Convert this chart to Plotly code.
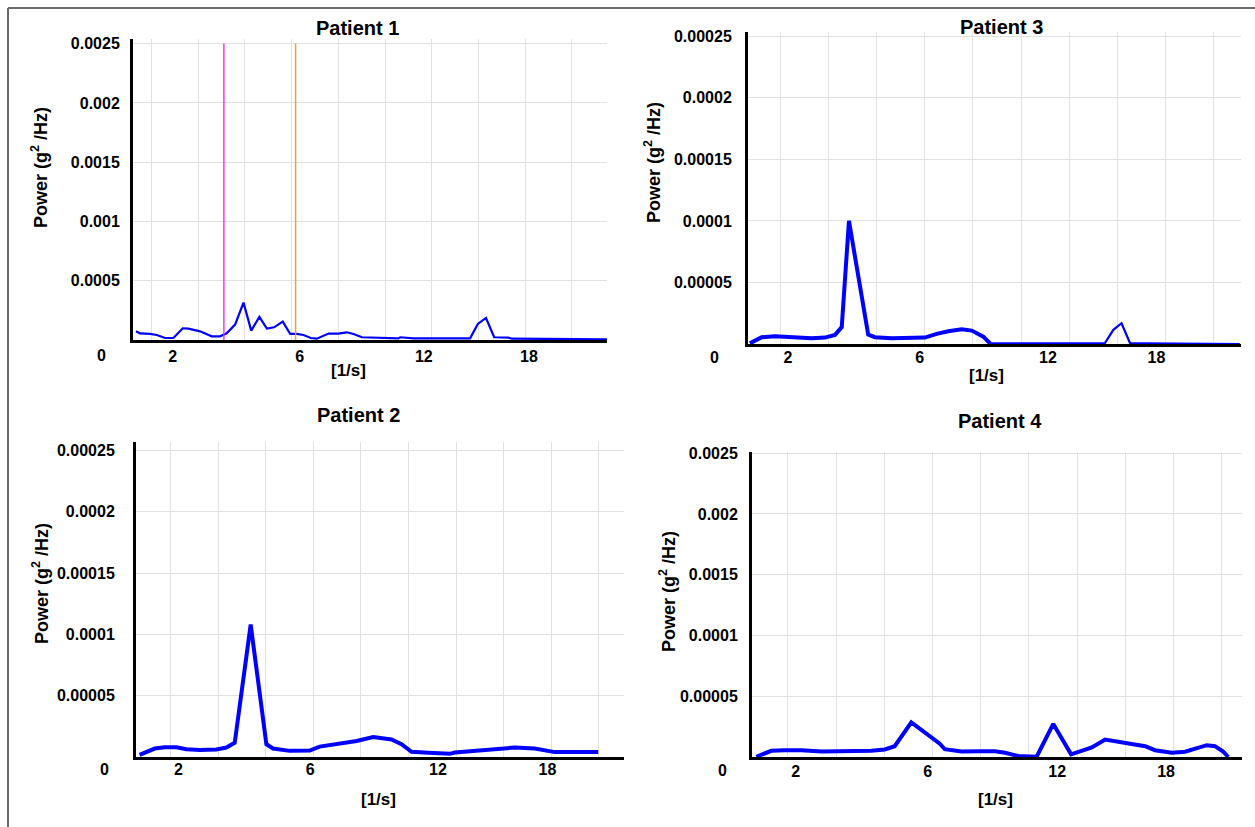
import plotly.graph_objects as go

# ---------------- data ----------------
tick_text = ["2", "6", "12", "18"]

p1_freq = [1.34, 1.51, 1.94, 2.23, 2.58, 2.94, 3.34, 3.58, 4.08, 4.58,
           4.94, 5.22, 5.58, 5.94, 6.27, 6.62, 6.94, 7.25, 7.62, 7.94,
           8.22, 8.51, 8.82, 9.08, 9.58, 10.0, 10.36, 10.65, 11.01, 11.65,
           12.08, 12.57, 12.65, 12.96, 13.22, 15.64, 15.97, 16.32, 16.67, 17.28,
           17.43, 21.5]
p1_power = [7.3e-5, 5.6e-5, 5.1e-5, 4.2e-5, 1.7e-5, 1.7e-5, 9.9e-5, 9.6e-5, 7.3e-5, 3.1e-5,
            3.1e-5, 5.6e-5, 1.3e-4, 3.16e-4, 7.9e-5, 1.95e-4, 9.6e-5, 1.07e-4, 1.55e-4, 5.1e-5,
            5.1e-5, 4.2e-5, 1.7e-5, 1.1e-5, 5.4e-5, 5.4e-5, 6.5e-5, 5.1e-5, 2.3e-5, 2.0e-5,
            1.4e-5, 1.4e-5, 2.3e-5, 2.0e-5, 1.4e-5, 1.4e-5, 1.36e-4, 1.86e-4, 2.3e-5, 2.0e-5,
            1.1e-5, 6e-6]
p1_band_edges = [5.10, 8.17]
p1_ticks = [2.91, 8.35, 13.66, 18.16]

p3_freq = [0.72, 1.21, 1.76, 2.18, 2.73, 3.29, 3.84, 4.26, 4.54, 4.84,
           5.64, 5.92, 6.62, 7.45, 8.00, 8.49, 8.97, 9.53, 9.95, 10.43,
           10.71, 12.49, 15.49, 15.84, 16.18, 16.53, 17.22, 21.1]
p3_power = [5e-7, 5.5e-6, 6.3e-6, 6.0e-6, 4.9e-6, 4.6e-6, 5.2e-6, 7.4e-6, 1.37e-5, 1.0e-4,
            7.6e-6, 5.5e-6, 4.6e-6, 4.6e-6, 5.2e-6, 8.2e-6, 1.04e-5, 1.2e-5, 1.09e-5, 6.0e-6,
            5e-7, 5e-7, 8e-7, 1.15e-5, 1.69e-5, 8e-7, 5e-7, 0.0]
p3_thick_end = 10.71
p3_ticks = [2.30, 7.78, 13.12, 17.63]

p2_freq = [0.70, 1.34, 1.76, 2.25, 2.67, 3.23, 3.93, 4.35, 4.70, 5.37,
           6.03, 6.31, 7.01, 7.85, 8.27, 8.98, 9.82, 10.52, 11.29, 11.71,
           12.13, 12.83, 13.74, 13.95, 14.79, 15.49, 16.47, 17.31, 18.15, 19.98]
p2_power = [1.8e-6, 6.9e-6, 8.0e-6, 8.0e-6, 6.4e-6, 5.8e-6, 6.1e-6, 7.7e-6, 1.17e-5, 1.08e-4,
            1.04e-5, 6.9e-6, 5.0e-6, 5.3e-6, 8.5e-6, 1.04e-5, 1.3e-5, 1.62e-5, 1.43e-5, 1.04e-5,
            4.2e-6, 3.4e-6, 2.6e-6, 3.7e-6, 5.3e-6, 6.1e-6, 7.7e-6, 6.9e-6, 4.0e-6, 4.0e-6]
p2_ticks = [2.33, 7.87, 13.24, 17.84]

p4_freq = [0.69, 1.31, 1.87, 2.56, 3.39, 4.49, 5.46, 6.02, 6.43, 7.12,
           8.30, 8.51, 9.20, 10.02, 10.59, 11.01, 11.56, 12.32, 13.01, 13.75,
           14.61, 15.16, 16.12, 16.82, 17.23, 17.93, 18.48, 18.90, 19.38, 19.72,
           20.07, 20.27]
p4_power = [2e-7, 5.1e-6, 5.6e-6, 5.6e-6, 4.6e-6, 4.6e-6, 5.1e-6, 6.2e-6, 8.9e-6, 2.85e-5,
            1.1e-5, 6.4e-6, 4.6e-6, 4.8e-6, 4.8e-6, 3.5e-6, 8e-7, 2e-7, 2.72e-5, 2.2e-6,
            7.8e-6, 1.43e-5, 1.15e-5, 8.9e-6, 5.6e-6, 3.5e-6, 4.3e-6, 7.0e-6, 9.7e-6, 8.9e-6,
            4.3e-6, 0.0]
p4_ticks = [2.32, 7.80, 13.17, 17.69]

y_big_vals = [0.0005, 0.001, 0.0015, 0.002, 0.0025]
y_big_text = ["0.0005", "0.001", "0.0015", "0.002", "0.0025"]
y_small_vals = [0.00005, 0.0001, 0.00015, 0.0002, 0.00025]
y_small_text = ["0.00005", "0.0001", "0.00015", "0.0002", "0.00025"]
y_p4_text = ["0.00005", "0.0001", "0.0015", "0.002", "0.0025"]

titles = ["Patient 1", "Patient 3", "Patient 2", "Patient 4"]

# ---------------- layout helpers ----------------
W, H = 1255, 827
FONT = "Liberation Sans, Arial, sans-serif"
BLUE = "#0000ff"
GRID = "#e2e2e2"


def px(x):
    return x / W


def py(y):
    return 1 - y / H


fig = go.Figure()

panels = [
    dict(freq=p1_freq, power=p1_power, ticks=p1_ticks, xr=[1.21, 21.5], yr=[0, 0.00254],
         yv=y_big_vals, yt=y_big_text, xd=(133, 607), yd=(340, 39), lw=2.2, ys=7, xs=0),
    dict(freq=p3_freq, power=p3_power, ticks=p3_ticks, xr=[0.64, 21.15], yr=[0, 0.0002535],
         yv=y_small_vals, yt=y_small_text, xd=(748, 1241), yd=(344, 32), lw=4, ys=10, xs=-3),
    dict(freq=p2_freq, power=p2_power, ticks=p2_ticks, xr=[0.55, 21.06], yr=[0, 0.000257],
         yv=y_small_vals, yt=y_small_text, xd=(136, 624), yd=(757, 442), lw=4, ys=15, xs=-4),
    dict(freq=p4_freq, power=p4_power, ticks=p4_ticks, xr=[0.51, 20.84], yr=[0, 0.000251],
         yv=y_small_vals, yt=y_p4_text, xd=(752, 1242), yd=(757, 452), lw=4, ys=8, xs=-2),
]

for i, p in enumerate(panels):
    n = "" if i == 0 else str(i + 1)
    xa, ya = "x" + n, "y" + n
    if i == 1:
        thick_x = [f for f in p["freq"] if f <= p3_thick_end]
        thick_y = p["power"][:len(thick_x)]
        thin_x = p["freq"][len(thick_x) - 1:]
        thin_y = p["power"][len(thick_x) - 1:]
        fig.add_trace(go.Scatter(x=thick_x, y=thick_y, mode="lines", line=dict(color=BLUE, width=4),
                                 xaxis=xa, yaxis=ya, showlegend=False, cliponaxis=False))
        fig.add_trace(go.Scatter(x=thin_x, y=thin_y, mode="lines", line=dict(color=BLUE, width=2.2),
                                 xaxis=xa, yaxis=ya, showlegend=False, cliponaxis=False))
    else:
        fig.add_trace(go.Scatter(x=p["freq"], y=p["power"], mode="lines",
                                 line=dict(color=BLUE, width=p["lw"]),
                                 xaxis=xa, yaxis=ya, showlegend=False, cliponaxis=False))

    xkey = "xaxis" + n
    ykey = "yaxis" + n
    fig.update_layout(**{
        xkey: dict(
            domain=[px(p["xd"][0]), px(p["xd"][1])], anchor=ya, range=p["xr"],
            tickmode="array", tickvals=p["ticks"], ticktext=tick_text,
            showgrid=False, zeroline=False, ticks="", ticklabelstandoff=p["xs"],
            showline=True, linecolor="black", linewidth=3, automargin=False,
            tickfont=dict(family=FONT, size=16, color="black", weight="bold"),
            minor=dict(tickmode="linear", tick0=0, dtick=2, showgrid=True,
                       gridcolor=GRID, gridwidth=1, ticks=""),
        ),
        ykey: dict(
            domain=[py(p["yd"][0]), py(p["yd"][1])], anchor=xa, range=p["yr"],
            tickmode="array", tickvals=p["yv"], ticktext=p["yt"],
            showgrid=True, gridcolor=GRID, gridwidth=1, zeroline=False, ticks="",
            ticklabelstandoff=p["ys"], automargin=False,
            showline=True, linecolor="black", linewidth=3,
            tickfont=dict(family=FONT, size=16, color="black", weight="bold"),
        ),
    })

# Patient 1 band markers
fig.add_shape(type="line", xref="x", yref="y domain", x0=p1_band_edges[0], x1=p1_band_edges[0],
              y0=0, y1=0.985, line=dict(color="#ee3bee", width=1.5))
fig.add_shape(type="line", xref="x", yref="y domain", x0=p1_band_edges[1], x1=p1_band_edges[1],
              y0=0, y1=0.985, line=dict(color="#ff9a3c", width=1.5))

# outer frame (top and left edges)
fig.add_shape(type="line", xref="paper", yref="paper", x0=px(8), x1=1.01, y0=py(8), y1=py(8),
              line=dict(color="#6a6a6a", width=2))
fig.add_shape(type="line", xref="paper", yref="paper", x0=px(8), x1=px(8), y0=py(8), y1=-0.01,
              line=dict(color="#6a6a6a", width=2))

annos = []
title_pos = [(357, 28), (1001, 27), (358, 415), (1000, 421)]
xt_pos = [(348, 371), (986, 375), (378, 799), (995, 799)]
yt_pos = [(40, 168), (652, 163), (40, 584), (667, 592)]
zero_pos = [(101, 355), (714, 357), (104, 769), (722, 770)]
for i in range(4):
    annos.append(dict(text=titles[i], x=px(title_pos[i][0]), y=py(title_pos[i][1]),
                      xref="paper", yref="paper", showarrow=False, xanchor="center", yanchor="middle",
                      font=dict(family=FONT, size=20, color="black", weight="bold")))
    annos.append(dict(text="[1/s]", x=px(xt_pos[i][0]), y=py(xt_pos[i][1]),
                      xref="paper", yref="paper", showarrow=False, xanchor="center", yanchor="middle",
                      font=dict(family=FONT, size=17, color="black", weight="bold")))
    annos.append(dict(text="Power (g<sup>2</sup> /Hz)", x=px(yt_pos[i][0]), y=py(yt_pos[i][1]),
                      xref="paper", yref="paper", showarrow=False, xanchor="center", yanchor="middle",
                      textangle=-90,
                      font=dict(family=FONT, size=18, color="black", weight="bold")))
    annos.append(dict(text="0", x=px(zero_pos[i][0]), y=py(zero_pos[i][1]),
                      xref="paper", yref="paper", showarrow=False, xanchor="center", yanchor="middle",
                      font=dict(family=FONT, size=16, color="black", weight="bold")))

fig.update_layout(
    width=W, height=H, margin=dict(l=0, r=0, t=0, b=0, autoexpand=False),
    paper_bgcolor="white", plot_bgcolor="white",
    showlegend=False, annotations=annos,
)

fig.write_html("out.html", config={"displayModeBar": False},
               post_script="document.body.style.margin='0';document.body.style.overflow='hidden';")
